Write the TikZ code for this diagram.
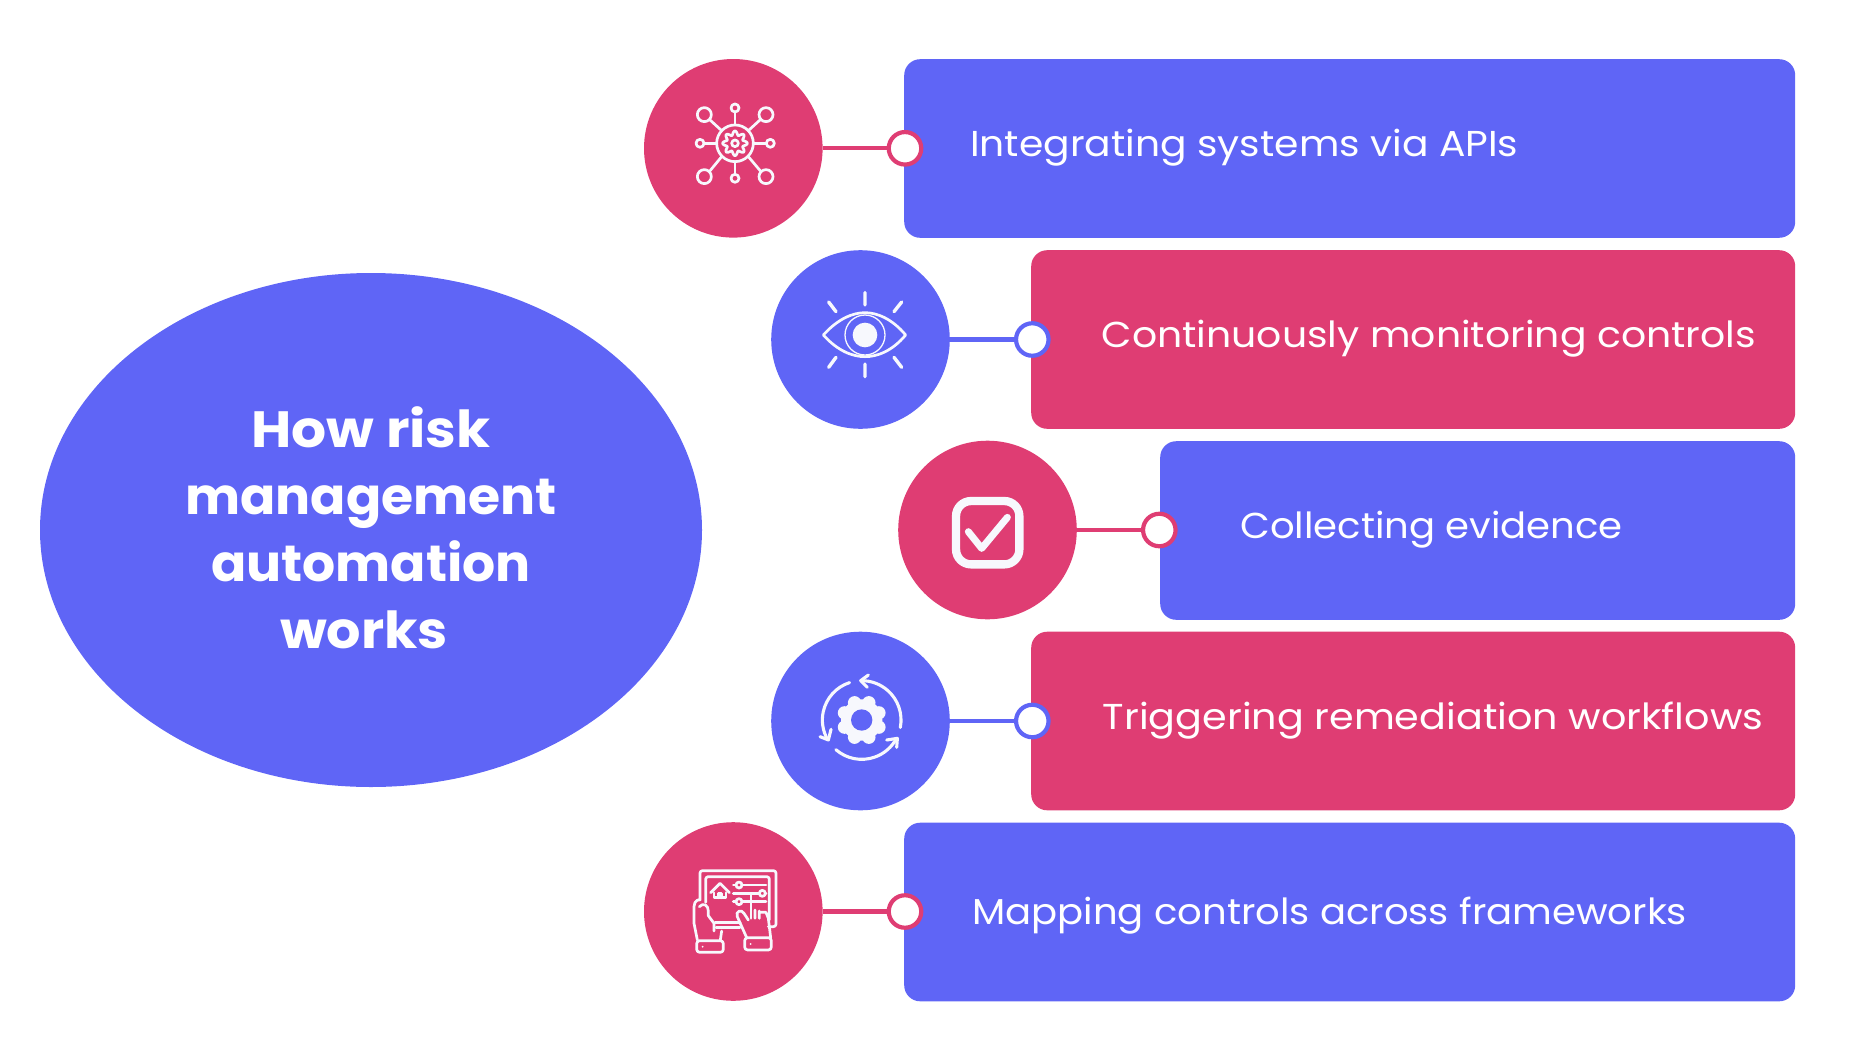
\documentclass[tikz,border=0pt]{standalone}
\usepackage{fontspec}
\setmainfont{Poppins}
\usetikzlibrary{shapes.geometric}
\definecolor{vio}{HTML}{5F65F6}
\definecolor{pnk}{HTML}{DF3D73}
\definecolor{icw}{HTML}{F7F8FD}
\tikzset{
  dot/.style={circle,inner sep=0pt,minimum size=178.6pt,fill=#1},
  bar/.style={rectangle,inner sep=0pt,anchor=north west,minimum height=178.6pt,rounded corners=16pt,fill=#1},
  ringnode/.style={circle,inner sep=0pt,minimum size=32.5pt,fill=white,draw=#1,line width=4.2pt},
  link/.style={draw=#1,line width=4.2pt},
  lbl/.style={anchor=base west,inner sep=0pt,text=white,transform shape,font=\fontsize{36}{43}\selectfont},
  ico/.style={draw=icw,line width=2.7pt,line cap=round,line join=round},
  icothick/.style={draw=icw,line width=3.4pt,line cap=round,line join=round},
}
\begin{document}
\begin{tikzpicture}[x=1pt,y=-1pt]
\useasboundingbox (0,0) rectangle (1875,1055);
\node[ellipse,inner sep=0pt,minimum width=662pt,minimum height=514pt,fill=vio] (oval) at (371,530) {};
\node[inner sep=0pt,text=white,align=center,font=\fontsize{51}{67}\selectfont\bfseries] (titletext) at (oval.center) [yshift=2.5pt] {\scalebox{1.08}[1]{How risk}\\\scalebox{1.02}[1]{management}\\\scalebox{1.02}[1]{automation}\\\scalebox{1.06}[1]{works}\hspace*{14pt}};
% boxes
\node[bar=vio,minimum width=891pt] (b1) at (904,59) {};
\node[bar=pnk,minimum width=764pt] (b2) at (1031,250) {};
\node[bar=vio,minimum width=635pt] (b3) at (1160,441) {};
\node[bar=pnk,minimum width=764pt] (b4) at (1031,631.5) {};
\node[bar=vio,minimum width=891pt] (b5) at (904,822.5) {};
% discs
\node[dot=pnk] (c1) at (733.3,148.3) {};
\node[dot=vio] (c2) at (860.5,339.5) {};
\node[dot=pnk] (c3) at (987.5,530) {};
\node[dot=vio] (c4) at (860.5,721) {};
\node[dot=pnk] (c5) at (733.3,911.5) {};
% rings
\node[ringnode=pnk] (r1) at (905,148.3) {};
\node[ringnode=vio] (r2) at (1032.3,339.5) {};
\node[ringnode=pnk] (r3) at (1159.3,530) {};
\node[ringnode=vio] (r4) at (1032.3,721) {};
\node[ringnode=pnk] (r5) at (905,911.5) {};
% links
\draw[link=pnk] (c1) -- (r1);
\draw[link=vio] (c2) -- (r2);
\draw[link=pnk] (c3) -- (r3);
\draw[link=vio] (c4) -- (r4);
\draw[link=pnk] (c5) -- (r5);
% labels
\node[lbl,xscale=1.09] (t1) at (970,156) {Integrating systems via APIs};
\node[lbl,xscale=1.094] (t2) at (1101.5,347) {Continuously monitoring controls};
\node[lbl,xscale=1.072] (t3) at (1240,538.5) {Collecting evidence};
\node[lbl,xscale=1.103] (t4) at (1102.6,729.5) {Triggering remediation workflows};
\node[lbl,xscale=1.072] (t5) at (972,924) {Mapping controls across frameworks};
% icon 1: network
\begin{scope}[shift={(735,143.3)},scale=1/3]
\draw[ico] (0,0) circle[radius=55];
\draw[ico] plot[domain=0:360,samples=97,smooth] ({(31+6*cos(8*\x))*cos(\x)},{(31+6*cos(8*\x))*sin(\x)});
\draw[ico] (0,0) circle[radius=10];
\foreach \px/\py/\rr in {-92/-86/21,93/-86/21,-92/100/21,93/100/21,0/-106/12,0/105/12,-105/0/12,106/0/12}{
  \draw[ico] (\px,\py) circle[radius=\rr];
}
\draw[ico] (-75,-70) -- (-40,-38) (75,-70) -- (40,-38) (-77,85) -- (-40,40) (78,85) -- (40,40);
\draw[ico] (0,-94) -- (0,-55) (0,93) -- (0,55) (-93,0) -- (-55,0) (94,0) -- (55,0);
\end{scope}
% icon 2: eye
\begin{scope}[shift={(865,335)},scale=1/3]
\draw[ico] (-125,0) .. controls (-80,-50) and (-35,-67) .. (0,-67) .. controls (35,-67) and (80,-50) .. (122,0) .. controls (80,50) and (35,65) .. (0,65) .. controls (-35,65) and (-80,50) .. (-125,0) -- cycle;
\draw[ico,line width=1.3pt] (0,0) circle[radius=60];
\fill[icw] (0,0) circle[radius=37];
\draw[icothick] (0,-127) -- (0,-90) (0,87) -- (0,125) (-109,-99) -- (-87,-70) (110,-99) -- (87,-70) (-109,97) -- (-87,67) (110,97) -- (87,67);
\end{scope}
% icon 3: check box
\begin{scope}[shift={(987.7,532.7)},scale=1/3]
\draw[draw=icw,line width=8.3pt,rounded corners=15pt] (-95,-95) rectangle (95,95);
\draw[icw,line width=7pt,line cap=round,line join=round] (-58,-3) -- (-18,47) -- (59,-46);
\end{scope}
% icon 4: gear and arrows
\begin{scope}[shift={(861.7,720)},scale=1/3]
\fill[icw] (0,0) circle[radius=62];
\foreach \a in {22.5,67.5,...,337.5}{ \fill[icw] (\a:56) circle[radius=20]; }
\fill[vio] (0,0) circle[radius=32];
\draw[ico,line width=3.1pt] (11:118) arc[start angle=11,end angle=-90,radius=118];
\draw[ico,line width=3.1pt] (252:118) arc[start angle=252,end angle=150,radius=118];
\draw[ico,line width=3.1pt] (131:118) arc[start angle=131,end angle=28,radius=118];
\draw[ico,line width=3.1pt] (20,-135) -- (-3,-118) -- (17,-98);
\draw[ico,line width=3.1pt] (-125,50) -- (-100,60) -- (-92,28);
\draw[ico,line width=3.1pt] (75,60) -- (107,55) -- (105,82);
\end{scope}
% icon 5: tablet and hands
\begin{scope}[shift={(640,825)},scale=1/3]
\draw[ico,rounded corners=2.5pt] (180,225) -- (180,137) -- (408,137) -- (408,305) -- (385,305);
\draw[ico] (228,308) -- (300,308);
\draw[ico,rounded corners=2.5pt] (197,232) -- (197,155) -- (388,155) -- (388,285);
\draw[ico] (225,293) -- (300,293);
\draw[ico] (212,203) -- (240,175) -- (268,203);
\draw[ico] (222,203) -- (222,218) -- (258,218) -- (258,203);
\draw[ico] (235,218) -- (235,205) -- (245,205) -- (245,218);
\draw[ico] (306,180) -- (378,180) (280,180) -- (288,180);
\draw[ico] (280,205) -- (358,205) (376,205) -- (378,205);
\draw[ico] (306,230) -- (378,230) (280,230) -- (288,230);
\draw[ico] (297,180) circle[radius=9];
\draw[ico] (367,205) circle[radius=9];
\draw[ico] (297,230) circle[radius=9];
\draw[ico] (333,207) -- (333,280);
\draw[ico] (320,338) -- (292,275) .. controls (285,258) and (305,252) .. (312,265) -- (325,285);
\draw[ico] (345,280) -- (345,255) (358,280) -- (358,258) (358,262) -- (378,262) -- (385,280) -- (392,338);
\draw[ico,rounded corners=3pt] (314,338) rectangle (394,375);
\fill[icw] (332,357) circle[radius=3];
\draw[ico] (172,345) -- (162,295) -- (162,245) .. controls (162,225) and (180,222) .. (180,225);
\draw[ico] (178,245) .. controls (190,232) and (205,240) .. (205,258) -- (205,272) -- (222,295) -- (222,318);
\draw[ico] (245,318) -- (241,345);
\draw[ico,rounded corners=3pt] (170,347) rectangle (250,382);
\fill[icw] (188,365) circle[radius=3];
\end{scope}
\end{tikzpicture}
\end{document}
